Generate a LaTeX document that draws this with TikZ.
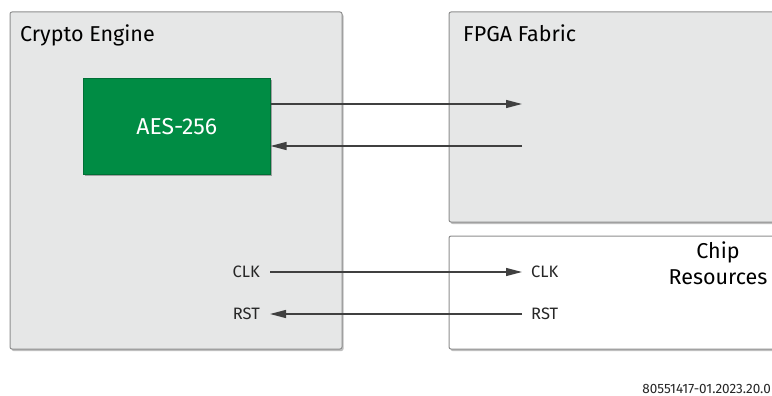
\documentclass[tikz,border=0pt]{standalone}
\usepackage{fontspec}
\setmainfont{Fira Sans}
\usetikzlibrary{arrows.meta,shadows}
\definecolor{boxgray}{HTML}{E6E7E7}
\definecolor{edgegray}{HTML}{8E8E8E}
\definecolor{aesgreen}{HTML}{008C44}
\definecolor{wire}{HTML}{404040}
\tikzset{
  panel/.style={draw=edgegray, line width=1pt, rounded corners=2pt, fill=boxgray,
    drop shadow={shadow xshift=1.5pt, shadow yshift=-2pt, opacity=0.25, fill=black}},
  wpanel/.style={panel, fill=white},
  title/.style={anchor=base west, font=\fontsize{21.5}{24}\selectfont, inner sep=0pt},
  sig/.style={font=\fontsize{16.5}{18}\selectfont, inner sep=0pt, text=black!85},
  conn/.style={draw=wire, line width=1.3pt, -{Triangle[length=16pt,width=8pt]}},
}
\begin{document}
\begin{tikzpicture}[x=1pt,y=-1pt]
\useasboundingbox (0,0) rectangle (772,396);
\begin{scope}
\clip (0,0) rectangle (772,396);
\path[panel] (10,12) rectangle (342,349);
\path[panel] (449,12) rectangle (790,222);
\path[wpanel] (449,236) rectangle (790,349);
\end{scope}
\node[title] (ce) at (20,42) {Crypto Engine};
\node[title] (ff) at (463,42) {FPGA Fabric};
\node[draw=aesgreen!80!black, line width=0.5pt, fill=aesgreen, minimum width=187pt, minimum height=96pt, anchor=north west,
  text=white, font=\fontsize{23}{26}\selectfont,
  drop shadow={shadow xshift=1.5pt, shadow yshift=-2pt, opacity=0.3, fill=black}] (aes) at (83,78) {AES-256};
\coordinate (a1) at (522,104);
\coordinate (a2) at (522,146);
\draw[conn] (aes.east |- a1) -- (a1);
\draw[conn] (a2) -- (aes.east |- a2);
\node[sig, anchor=east] (clkL) at (260,272) {CLK};
\node[sig, anchor=east] (rstL) at (260,314) {RST};
\node[sig, anchor=west] (clkR) at (531,272) {CLK};
\node[sig, anchor=west] (rstR) at (531,314) {RST};
\draw[conn] ([xshift=10pt]clkL.east) -- ([xshift=-9pt]clkR.west);
\draw[conn] ([xshift=-9pt]rstR.west) -- ([xshift=10pt]rstL.east);
\node[align=center, font=\fontsize{21.5}{26}\selectfont, anchor=north, inner sep=0pt] (cr2) at (718,242) {Chip\\Resources};
\node[anchor=base east, inner sep=0pt, font=\fontsize{13.5}{16}\selectfont, text=black!85] (fn) at (771,393) {80551417-01.2023.20.0};
\end{tikzpicture}
\end{document}
